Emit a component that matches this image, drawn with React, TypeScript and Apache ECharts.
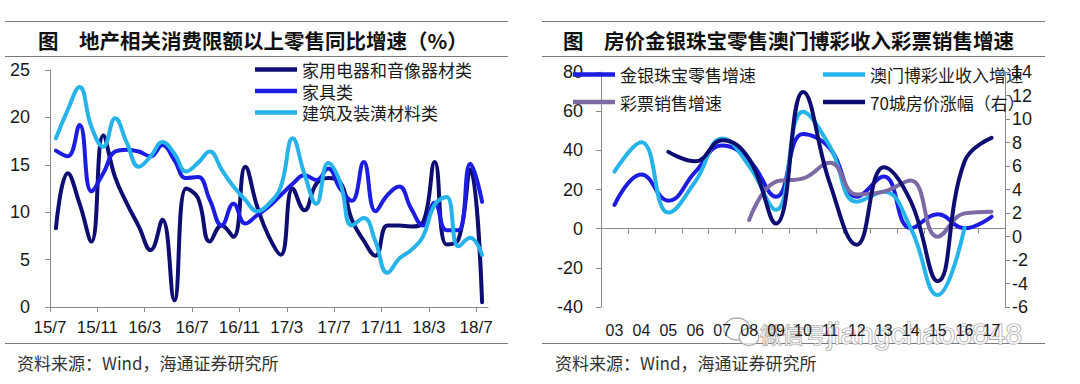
import React, { useEffect, useRef } from 'react';
import * as echarts from 'echarts';

// ---------- Left chart: 地产相关消费限额以上零售同比增速（%） ----------
const monthLabels = [
  '15/7', '15/8', '15/9', '15/10', '15/11', '15/12',
  '16/1', '16/2', '16/3', '16/4', '16/5', '16/6', '16/7', '16/8', '16/9', '16/10', '16/11', '16/12',
  '17/1', '17/2', '17/3', '17/4', '17/5', '17/6', '17/7', '17/8', '17/9', '17/10', '17/11', '17/12',
  '18/1', '18/2', '18/3', '18/4', '18/5', '18/6', '18/7',
];
const leftNames = ['家用电器和音像器材类', '家具类', '建筑及装潢材料类'];
const applianceGrowth = [
  8.3, 14.1, 10.9, 6.9, 18.1, 13.7, 10.9, 8.5, 6.0, 9.2, 0.7, 12.5, 11.5, 6.9, 8.6, 7.4, 14.8, 10.6, 7.4,
  5.5, 12.5, 10.2, 13.0, 13.6, 13.2, 9.2, 7.0, 5.4, 8.6, 8.6, 8.5, 8.9, 15.3, 6.6, 7.1, 14.5, 0.5,
];
const furnitureGrowth = [
  16.5, 15.9, 19.2, 12.2, 14.1, 16.4, 16.6, 16.4, 15.9, 17.1, 15.5, 13.6, 13.7, 11.3, 8.6, 10.9, 8.8, 9.7, 10.6,
  11.8, 13.0, 13.9, 13.4, 14.6, 12.5, 11.2, 15.3, 10.1, 11.8, 12.7, 10.4, 8.6, 11.0, 8.1, 8.1, 15.1, 11.1,
];
const buildingMaterialGrowth = [
  17.8, 20.8, 23.2, 19.0, 16.9, 19.9, 17.3, 14.8, 15.9, 17.4, 16.2, 14.3, 15.2, 16.4, 14.5, 12.7, 11.3, 10.1, 10.9,
  12.7, 17.8, 14.0, 10.9, 15.2, 13.2, 8.6, 9.4, 6.9, 3.6, 5.1, 6.0, 7.4, 10.8, 11.6, 6.4, 7.3, 5.5,
];
const leftYTicks = { min: 0, max: 25, step: 5 };

// ---------- Right chart: 房价金银珠宝零售澳门博彩收入彩票销售增速 ----------
const yearLabels = ['03', '04', '05', '06', '07', '08', '09', '10', '11', '12', '13', '14', '15', '16', '17'];
const rightNames = ['金银珠宝零售增速', '澳门博彩业收入增速', '彩票销售增速', '70城房价涨幅（右）'];
const jewelryGrowth = [12.1, 27.7, 14.3, 29.0, 42.5, 35.0, 16.3, 48.3, 41.0, 16.3, 26.6, 0.2, 7.3, 0.2, 6.1];
const macauGamingGrowth = [29.1, 44.1, 8.2, 24.0, 46.0, 32.0, 9.6, 59.7, 42.0, 13.8, 18.9, 0.2, -33.9, 0.5, null];
const lotteryGrowth = [null, null, null, null, null, 4.4, 24.0, 25.7, 33.6, 17.5, 18.9, 24.6, -4.1, 7.8, 8.7];
const housePriceGrowth = [null, null, 7.2, 6.4, 8.2, 6.6, 1.1, 12.3, 4.5, -0.7, 5.9, 3.0, -3.8, 6.4, 8.4];
const rightLeftTicks = { min: -40, max: 80, step: 20 };
const rightRightTicks = { min: -6, max: 14, step: 2 };

const LATIN = '"Liberation Sans", Arial, sans-serif';
const CJK = '"Noto Sans CJK SC", "Liberation Sans", sans-serif';
const AXIS = '#8a8a8a';
const TXT = '#1a1a1a';

const NAVY = '#0e0e72';
const BLUE = '#1c1ce2';
const LIGHT = '#25b3ea';
const PURPLE = '#7c6aa4';

export default function App() {
  const ref = useRef<HTMLDivElement>(null);

  useEffect(() => {
    if (!ref.current) return;
    const chart = echarts.init(ref.current, null, { renderer: 'svg' });
    const leftTicks = monthLabels.map((_, i) => i).filter((i) => i % 4 === 0);
    const toXY = (arr: number[]) => arr.map((v, i) => [i + 0.5, v]);

    const lineSeries = (name: string, color: string, data: any[], xi: number, yi: number) => ({
      name,
      type: 'line',
      xAxisIndex: xi,
      yAxisIndex: yi,
      data,
      smooth: 0.45,
      symbol: 'none',
      connectNulls: false,
      lineStyle: { width: 4, color, cap: 'round', join: 'round' },
      itemStyle: { color },
      emphasis: { disabled: true },
    });

    const yAxisBase = {
      type: 'value',
      splitLine: { show: false },
      axisLine: { show: true, lineStyle: { color: AXIS, width: 1 } },
      axisTick: { show: true, length: 5, lineStyle: { color: AXIS } },
      axisLabel: { fontSize: 18, color: TXT, fontFamily: LATIN },
    };

    const legendBase = {
      orient: 'vertical',
      itemWidth: 42,
      itemHeight: 14,
      selectedMode: false,
      icon: 'path://M0,0 L42,0 L42,4.5 L0,4.5 Z',
      symbolKeepAspect: true,
      textStyle: { fontSize: 17, lineHeight: 17, color: TXT, fontFamily: CJK },
      padding: 0,
    };

    const hLine = (x1: number, x2: number, y: number) => ({
      type: 'line',
      shape: { x1, y1: y, x2, y2: y },
      style: { stroke: '#7a7a7a', lineWidth: 1 },
      silent: true,
    });

    const option: any = {
      animation: false,
      backgroundColor: '#ffffff',
      grid: [
        { left: 50, top: 70, width: 438, height: 237, containLabel: false },
        { left: 601, top: 72, width: 404, height: 235, containLabel: false },
      ],
      xAxis: [
        {
          type: 'value',
          gridIndex: 0,
          min: 0,
          max: monthLabels.length,
          interval: 4,
          splitLine: { show: false },
          axisLine: { show: true, onZero: false, lineStyle: { color: AXIS, width: 1 } },
          axisTick: { show: true, length: 5, lineStyle: { color: AXIS }, customValues: leftTicks },
          axisLabel: {
            customValues: leftTicks,
            fontSize: 17,
            color: TXT,
            fontFamily: LATIN,
            margin: 12,
            formatter: (v: number) => (v % 4 === 0 && monthLabels[v] ? monthLabels[v] : ''),
          },
        },
        {
          type: 'category',
          gridIndex: 1,
          data: yearLabels,
          boundaryGap: true,
          position: 'bottom',
          axisLine: { show: true, onZero: true, onZeroAxisIndex: 1, lineStyle: { color: AXIS, width: 1 } },
          axisTick: { show: true, interval: 0, length: 5, lineStyle: { color: AXIS } },
          axisLabel: { show: false },
          splitLine: { show: false },
        },
        {
          type: 'category',
          gridIndex: 1,
          data: yearLabels,
          boundaryGap: true,
          position: 'bottom',
          axisLine: { show: false, onZero: false },
          axisTick: { show: false },
          axisLabel: { show: true, interval: 0, fontSize: 16, color: TXT, fontFamily: LATIN, margin: 15 },
          splitLine: { show: false },
        },
      ],
      yAxis: [
        {
          ...yAxisBase,
          gridIndex: 0,
          min: leftYTicks.min,
          max: leftYTicks.max,
          interval: leftYTicks.step,
          axisLabel: { ...yAxisBase.axisLabel, margin: 20 },
        },
        {
          ...yAxisBase,
          gridIndex: 1,
          position: 'left',
          min: rightLeftTicks.min,
          max: rightLeftTicks.max,
          interval: rightLeftTicks.step,
          axisLabel: { ...yAxisBase.axisLabel, margin: 18 },
        },
        {
          ...yAxisBase,
          gridIndex: 1,
          position: 'right',
          min: rightRightTicks.min,
          max: rightRightTicks.max,
          interval: rightRightTicks.step,
          axisLabel: { ...yAxisBase.axisLabel, margin: 7 },
        },
      ],
      legend: [
        { ...legendBase, left: 255, top: 61, itemGap: 4.5, data: leftNames },
        { ...legendBase, left: 573, top: 66, itemGap: 10.5, data: [rightNames[0], rightNames[2]] },
        { ...legendBase, left: 823, top: 66, itemGap: 10.5, data: [rightNames[1], rightNames[3]] },
      ],
      series: [
        lineSeries(leftNames[0], NAVY, toXY(applianceGrowth), 0, 0),
        lineSeries(leftNames[1], BLUE, toXY(furnitureGrowth), 0, 0),
        lineSeries(leftNames[2], LIGHT, toXY(buildingMaterialGrowth), 0, 0),
        lineSeries(rightNames[0], BLUE, jewelryGrowth, 1, 1),
        lineSeries(rightNames[1], LIGHT, macauGamingGrowth, 1, 1),
        lineSeries(rightNames[2], PURPLE, lotteryGrowth, 1, 1),
        lineSeries(rightNames[3], NAVY, housePriceGrowth, 1, 2),
      ],
      graphic: [
        hLine(5, 508, 21.5),
        hLine(5, 508, 56.5),
        hLine(5, 508, 343.5),
        hLine(542, 1045, 21.5),
        hLine(542, 1045, 56.5),
        hLine(542, 1045, 343.5),
        {
          type: 'text',
          x: 38,
          y: 40,
          style: {
            text: '图　地产相关消费限额以上零售同比增速（%）',
            font: `bold 20.5px ${CJK}`,
            fill: '#111',
            verticalAlign: 'middle',
          },
        },
        {
          type: 'text',
          x: 563,
          y: 40,
          style: {
            text: '图　房价金银珠宝零售澳门博彩收入彩票销售增速',
            font: `bold 20.5px ${CJK}`,
            fill: '#111',
            verticalAlign: 'middle',
          },
        },
        {
          type: 'text',
          x: 17,
          y: 362,
          style: { text: '资料来源：Wind，海通证券研究所', font: `17px ${CJK}`, fill: '#333', verticalAlign: 'middle' },
        },
        {
          type: 'text',
          x: 555,
          y: 362,
          style: { text: '资料来源：Wind，海通证券研究所', font: `17px ${CJK}`, fill: '#333', verticalAlign: 'middle' },
        },
        // watermark
        {
          type: 'group',
          z: 100,
          silent: true,
          children: [
            {
              type: 'ellipse',
              shape: { cx: 737, cy: 329, rx: 13, ry: 11 },
              style: { fill: 'rgba(255,255,255,0.75)', stroke: '#b0b0b0', lineWidth: 1.3 },
            },
            {
              type: 'ellipse',
              shape: { cx: 749, cy: 337, rx: 10, ry: 8.5 },
              style: { fill: 'rgba(255,255,255,0.75)', stroke: '#b0b0b0', lineWidth: 1.3 },
            },
            {
              type: 'text',
              x: 760,
              y: 333,
              style: {
                text: '微信号:',
                font: `22px ${CJK}`,
                fill: 'rgba(255,255,255,0.75)',
                stroke: '#a0a0a0',
                lineWidth: 1.2,
                verticalAlign: 'middle',
              },
            },
            {
              type: 'text',
              x: 827,
              y: 333,
              style: {
                text: 'jiangchao8848',
                font: `30px ${LATIN}`,
                fill: 'rgba(255,255,255,0.75)',
                stroke: '#a0a0a0',
                lineWidth: 1.2,
                verticalAlign: 'middle',
              },
            },
          ],
        },
      ],
    };

    chart.setOption(option);
    return () => chart.dispose();
  }, []);

  return (
    <div
      ref={ref}
      style={{ position: 'absolute', left: 0, top: 0, width: 1080, height: 384, background: '#ffffff' }}
    />
  );
}
